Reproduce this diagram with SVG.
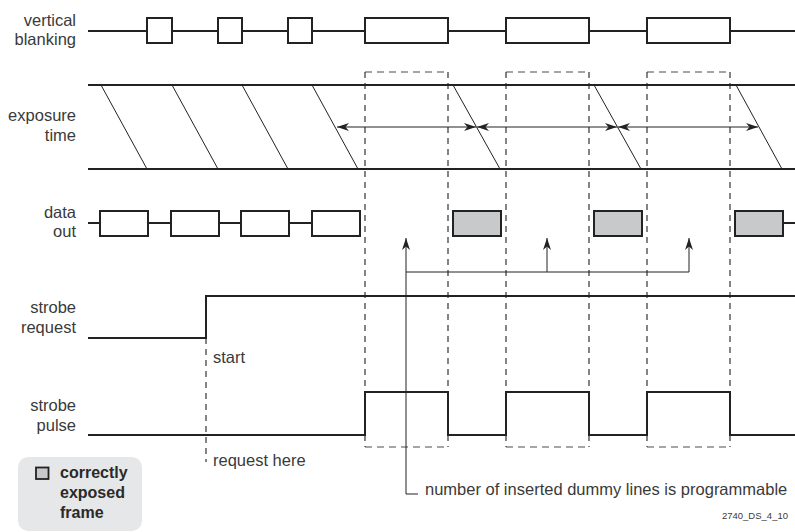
<svg xmlns="http://www.w3.org/2000/svg" width="795" height="532" viewBox="0 0 795 532">
  <style>
    .lbl { font-family: "Liberation Sans", "DejaVu Sans", sans-serif; font-size: 16.5px; fill: #3a3a3a; text-anchor: end; }
    .txt { font-family: "Liberation Sans", "DejaVu Sans", sans-serif; font-size: 16.5px; fill: #3a3a3a; }
    .bold { font-family: "Liberation Sans", "DejaVu Sans", sans-serif; font-size: 16px; font-weight: bold; fill: #2a2a2a; }
    .tiny { font-family: "Liberation Sans", "DejaVu Sans", sans-serif; font-size: 9.5px; fill: #3a3a3a; }
    .sig { fill: none; stroke: #222; stroke-width: 2; }
    .box { fill: #fff; stroke: #222; stroke-width: 2; }
    .gbox { fill: #c8c9ca; stroke: #222; stroke-width: 2; }
    .thin { fill: none; stroke: #222; stroke-width: 1; }
    .dashv { fill: none; stroke: #333; stroke-width: 1.2; stroke-dasharray: 6 5; }
    .dashh { fill: none; stroke: #888; stroke-width: 1.5; stroke-dasharray: 7 5; }
    .arr { fill: none; stroke: #222; stroke-width: 1; }
  </style>
  <defs>
    <marker id="ah" viewBox="0 0 12 8" refX="12" refY="4" markerWidth="12" markerHeight="8" markerUnits="userSpaceOnUse" orient="auto-start-reverse">
      <path d="M0,0 L12,4 L0,8 L3.5,4 z" fill="#222"/>
    </marker>
  </defs>

  <!-- signal labels -->
  <g id="labels">
    <text class="lbl" x="76" y="26">vertical</text>
    <text class="lbl" x="76" y="45">blanking</text>
    <text class="lbl" x="76" y="121">exposure</text>
    <text class="lbl" x="76" y="141">time</text>
    <text class="lbl" x="76" y="218">data</text>
    <text class="lbl" x="76" y="237">out</text>
    <text class="lbl" x="76" y="313">strobe</text>
    <text class="lbl" x="76" y="333">request</text>
    <text class="lbl" x="76" y="411">strobe</text>
    <text class="lbl" x="76" y="431">pulse</text>
  </g>

  <!-- frame windows (dashed) -->
  <g id="windows">
    <path class="dashh" d="M365,72 H448 M506,72 H589 M647,72 H730"/>
    <path class="dashh" d="M365,447 H448 M506,447 H589 M647,447 H730"/>
    <path class="dashv" d="M365,72 V447 M448,72 V447 M506,72 V447 M589,72 V447 M647,72 V447 M730,72 V447"/>
    <path class="dashv" d="M206,338 V462"/>
  </g>

  <!-- vertical blanking -->
  <g id="vblank">
    <path class="sig" d="M88,31 H795"/>
    <rect class="box" x="147" y="18" width="25" height="25"/>
    <rect class="box" x="218" y="18" width="24" height="25"/>
    <rect class="box" x="288" y="18" width="24" height="25"/>
    <rect class="box" x="365" y="18" width="83" height="25"/>
    <rect class="box" x="506" y="18" width="83" height="25"/>
    <rect class="box" x="647" y="18" width="83" height="25"/>
  </g>

  <!-- exposure time -->
  <g id="exposure">
    <path class="sig" d="M88,85 H795 M88,169 H795"/>
    <path class="thin" d="M101,85 L147,169 M172,85 L218,169 M242,85 L288,169 M312,85 L358,169 M453,85 L500,169 M594,85 L641,169 M736,85 L782,169"/>
  </g>

  <!-- data out -->
  <g id="dataout">
    <path class="sig" d="M88,223 H100 M148,223 H171 M219,223 H241 M289,223 H312 M783,223 H795"/>
    <rect class="box" x="100" y="211" width="48" height="25"/>
    <rect class="box" x="171" y="211" width="48" height="25"/>
    <rect class="box" x="241" y="211" width="48" height="25"/>
    <rect class="box" x="312" y="211" width="48" height="25"/>
    <rect class="gbox" x="453" y="211" width="48" height="25"/>
    <rect class="gbox" x="594" y="211" width="48" height="25"/>
    <rect class="gbox" x="735" y="211" width="48" height="25"/>
  </g>

  <!-- strobe request -->
  <g id="strobereq">
    <path class="sig" d="M88,338 H206 V296 H795"/>
    <text class="txt" x="213" y="363">start</text>
    <text class="txt" x="213" y="466">request here</text>
  </g>

  <!-- strobe pulse -->
  <g id="strobepulse">
    <path class="sig" d="M88,435 H365 V392 H448 V435 H506 V392 H589 V435 H647 V392 H730 V435 H795"/>
  </g>

  <!-- connectors -->
  <g id="connectors">
    <path class="arr" d="M337,127 H476" marker-start="url(#ah)" marker-end="url(#ah)"/>
    <path class="arr" d="M477,127 H617" marker-start="url(#ah)" marker-end="url(#ah)"/>
    <path class="arr" d="M618,127 H758" marker-start="url(#ah)" marker-end="url(#ah)"/>
    <path class="arr" d="M406,494 V238" marker-end="url(#ah)"/>
    <path class="arr" d="M406,272 H689"/>
    <path class="arr" d="M547,272 V238" marker-end="url(#ah)"/>
    <path class="arr" d="M689,272 V238" marker-end="url(#ah)"/>
    <path class="arr" d="M406,494 H418"/>
  </g>

  <g id="note">
    <text class="txt" x="425" y="495">number of inserted dummy lines is programmable</text>
  </g>

  <!-- legend -->
  <g id="legend">
    <rect x="18" y="457" width="124" height="74" rx="10" fill="#e6e7e8"/>
    <rect x="36" y="467.5" width="12.5" height="11.5" fill="#c8c9ca" stroke="#222" stroke-width="1.8"/>
    <text class="bold" x="60" y="478">correctly</text>
    <text class="bold" x="60" y="498">exposed</text>
    <text class="bold" x="60" y="518">frame</text>
  </g>

  <text class="tiny" x="788" y="519" text-anchor="end">2740_DS_4_10</text>
</svg>
